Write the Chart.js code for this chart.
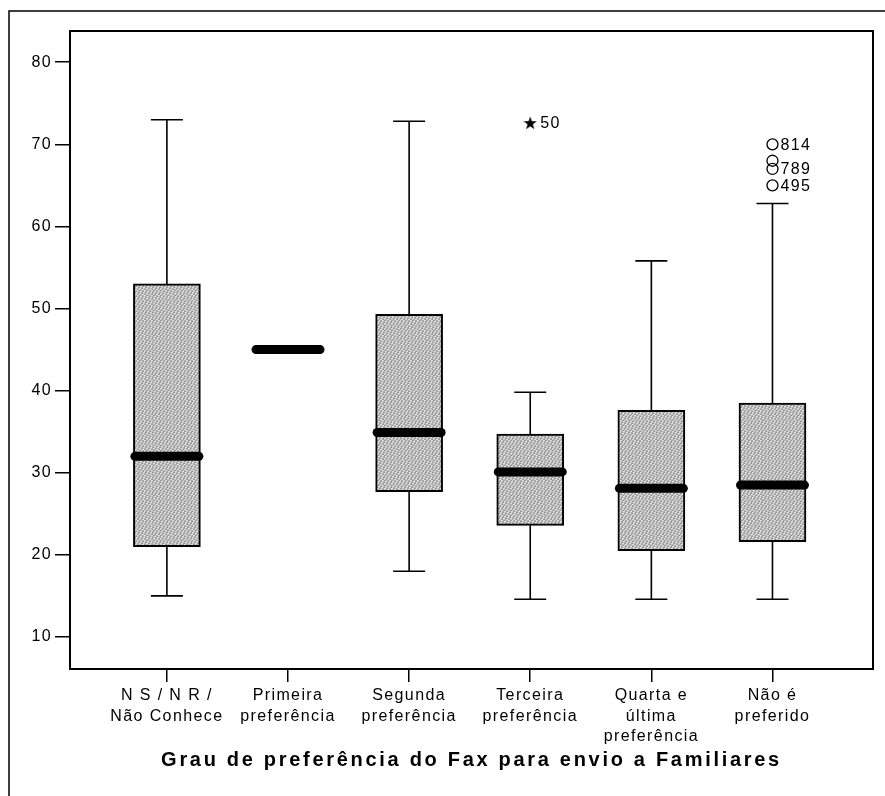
<!DOCTYPE html>
<html>
<head>
<meta charset="utf-8">
<script src="https://cdn.jsdelivr.net/npm/chart.js@4.4.1/dist/chart.umd.min.js"></script>
<style>
  html, body { margin: 0; padding: 0; background: #fff; }
  canvas { display: block; }
</style>
</head>
<body>
<canvas id="grafico-fax" width="885" height="796"></canvas>
<script>
// Categorias do eixo X (grau de preferência)
const categorias = [
    ['N S / N R /', 'Não Conhece'],
    ['Primeira', 'preferência'],
    ['Segunda', 'preferência'],
    ['Terceira', 'preferência'],
    ['Quarta e', 'última', 'preferência'],
    ['Não é', 'preferido']
];

// Estatísticas de cada caixa
const minimos  = [15, 45, 18, 14.6, 14.6, 14.6];
const quartil1 = [21, 45, 27.7, 23.6, 20.5, 21.6];
const medianas = [32, 45, 34.9, 30.1, 28.1, 28.5];
const quartil3 = [53, 45, 49.3, 34.7, 37.6, 38.5];
const maximos  = [73, 45, 72.8, 39.8, 55.8, 62.8];

// Valores atípicos (círculos) e extremos (estrela)
const atipicosCategoria = [5, 5, 5, 5];
const atipicosValor = [70, 68, 67, 65];
const atipicosRotulo = ['814', '', '789', '495'];
const extremosCategoria = [3];
const extremosValor = [72.6];
const extremosRotulo = ['50'];

// Marcas do eixo Y
const ticksY = [10, 20, 30, 40, 50, 60, 70, 80];

const fonte = "'Liberation Sans', Arial, sans-serif";
Chart.defaults.font.family = fonte;
Chart.defaults.color = '#000';

// Padrão pontilhado cinzento para o preenchimento das caixas
function criarPadrao() {
    const c = document.createElement('canvas');
    c.width = 7; c.height = 5;
    const g = c.getContext('2d');
    for (let j = 0; j < 5; j++) {
        for (let i = 0; i < 7; i++) {
            const k = (i * 3 + j * 5) % 7;
            const tom = [152, 218, 168, 204, 160, 225, 184][k];
            g.fillStyle = 'rgb(' + tom + ',' + tom + ',' + tom + ')';
            g.fillRect(i, j, 1, 1);
        }
    }
    return g.createPattern(c, 'repeat');
}

// Estrela usada como símbolo dos extremos
function criarEstrela() {
    const c = document.createElement('canvas');
    c.width = 14; c.height = 14;
    const g = c.getContext('2d');
    g.fillStyle = '#000';
    g.beginPath();
    for (let k = 0; k < 10; k++) {
        const r = k % 2 === 0 ? 7 : 2.8;
        const a = -Math.PI / 2 + k * Math.PI / 5;
        const px = 7 + r * Math.cos(a), py = 7.5 + r * Math.sin(a);
        if (k === 0) g.moveTo(px, py); else g.lineTo(px, py);
    }
    g.closePath();
    g.fill();
    return c;
}

const ctx = document.getElementById('grafico-fax').getContext('2d');

// Plugin para bigodes, medianas, moldura e rótulos dos atípicos
const pluginCaixas = {
    id: 'caixas',
    beforeDraw(chart) {
        const c = chart.ctx;
        c.save();
        c.strokeStyle = '#000';
        c.lineWidth = 1.5;
        c.beginPath();
        c.moveTo(9, 796);
        c.lineTo(9, 11);
        c.lineTo(885, 11);
        c.stroke();
        c.restore();
        c.letterSpacing = '2.7px';
    },
    beforeDatasetsDraw(chart) {
        const c = chart.ctx;
        const sx = chart.scales.x, sy = chart.scales.y;
        c.save();
        c.strokeStyle = '#000';
        c.lineWidth = 1.6;
        for (let i = 0; i < categorias.length; i++) {
            if (maximos[i] === minimos[i]) continue;
            const px = sx.getPixelForValue(i);
            const pares = [[quartil3[i], maximos[i]], [quartil1[i], minimos[i]]];
            pares.forEach(([de, ate]) => {
                const y0 = sy.getPixelForValue(de), y1 = sy.getPixelForValue(ate);
                c.beginPath();
                c.moveTo(px, y0); c.lineTo(px, y1);
                c.moveTo(px - 16, y1); c.lineTo(px + 16, y1);
                c.stroke();
            });
        }
        c.restore();
        c.letterSpacing = '1.4px';
    },
    afterDatasetsDraw(chart) {
        const c = chart.ctx;
        const sx = chart.scales.x, sy = chart.scales.y;
        const area = chart.chartArea;
        c.save();
        // medianas
        c.strokeStyle = '#000';
        c.lineWidth = 9;
        c.lineCap = 'round';
        medianas.forEach((m, i) => {
            const px = sx.getPixelForValue(i), py = sy.getPixelForValue(m);
            c.beginPath();
            c.moveTo(px - 32, py); c.lineTo(px + 32, py);
            c.stroke();
        });
        // moldura da área do gráfico
        c.lineCap = 'butt';
        c.lineWidth = 2;
        c.strokeRect(area.left, area.top, area.right - area.left, area.bottom - area.top);
        // rótulos dos casos
        c.fillStyle = '#000';
        c.font = '16px ' + fonte;
        c.textAlign = 'left';
        c.textBaseline = 'middle';
        atipicosRotulo.forEach((r, i) => {
            if (!r) return;
            c.fillText(r, sx.getPixelForValue(atipicosCategoria[i]) + 8, sy.getPixelForValue(atipicosValor[i]) + 1);
        });
        extremosRotulo.forEach((r, i) => {
            c.fillText(r, sx.getPixelForValue(extremosCategoria[i]) + 10, sy.getPixelForValue(extremosValor[i]) + 1);
        });
        c.restore();
    }
};

const grafico = new Chart(ctx, {
    type: 'bar',
    data: {
        datasets: [{
            label: 'Caixas',
            data: categorias.map((_, i) => ({
                x: i,
                y: quartil1[i] === quartil3[i] ? null : [quartil1[i], quartil3[i]]
            })),
            backgroundColor: criarPadrao(),
            borderColor: '#000',
            borderWidth: 2,
            borderSkipped: false,
            barThickness: 67
        }, {
            type: 'scatter',
            label: 'Atípicos',
            data: atipicosValor.map((v, i) => ({ x: atipicosCategoria[i], y: v })),
            pointStyle: 'circle',
            radius: 5.5,
            borderWidth: 1.3,
            borderColor: '#000',
            backgroundColor: 'rgba(255,255,255,0)'
        }, {
            type: 'scatter',
            label: 'Extremos',
            data: extremosValor.map((v, i) => ({ x: extremosCategoria[i], y: v })),
            pointStyle: criarEstrela()
        }]
    },
    options: {
        responsive: false,
        animation: false,
        devicePixelRatio: 1,
        layout: { padding: { top: 31, right: 12, left: 0, bottom: 0 } },
        plugins: {
            legend: { display: false },
            tooltip: { enabled: false }
        },
        scales: {
            x: {
                type: 'linear',
                min: -0.8,
                max: 5.83,
                offset: false,
                grid: { offset: false, drawOnChartArea: false, tickLength: 13, color: '#000', lineWidth: 1.5 },
                border: { color: '#000', width: 2 },
                afterBuildTicks: (scale) => {
                    scale.ticks = categorias.map((_, i) => ({ value: i }));
                },
                afterFit: (scale) => { scale.height = 796 - 669; },
                ticks: {
                    z: 1,
                    autoSkip: false,
                    maxRotation: 0,
                    minRotation: 0,
                    padding: 3,
                    font: { size: 16, lineHeight: 1.3 },
                    color: '#000',
                    callback: (v) => categorias[v]
                },
                title: {
                    display: true,
                    text: 'Grau de preferência do Fax para envio a Familiares',
                    font: { size: 20, weight: 'bold' },
                    color: '#000',
                    padding: { top: 0, bottom: 24 }
                }
            },
            y: {
                min: 6.1,
                max: 83.8,
                beginAtZero: false,
                grid: { drawOnChartArea: false, tickLength: 15, color: '#000', lineWidth: 1.5 },
                border: { color: '#000', width: 2 },
                afterBuildTicks: (scale) => {
                    scale.ticks = ticksY.map(v => ({ value: v }));
                },
                afterFit: (scale) => { scale.width = 70; },
                ticks: {
                    z: 1,
                    padding: 3,
                    font: { size: 16 },
                    color: '#000'
                }
            }
        }
    },
    plugins: [pluginCaixas]
});
</script>
</body>
</html>
